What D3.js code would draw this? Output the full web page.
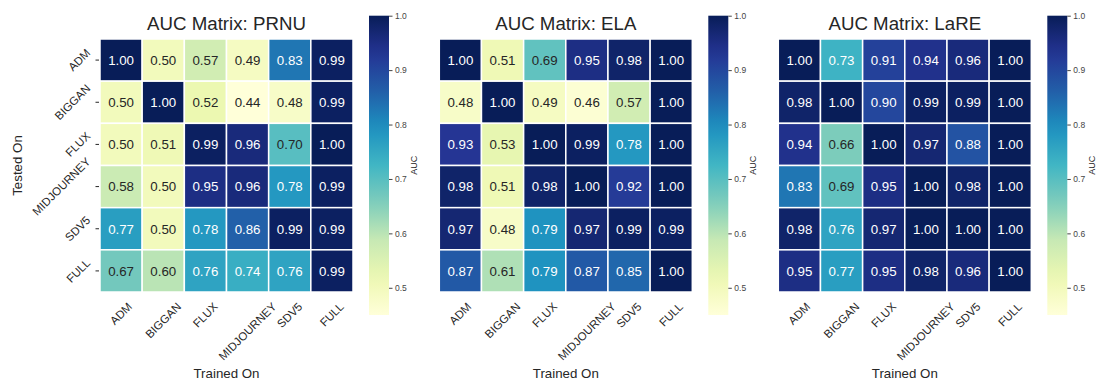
<!DOCTYPE html>
<html>
<head>
<meta charset="utf-8">
<script src="https://cdn.jsdelivr.net/npm/d3@7"></script>
<style>
  html, body { margin: 0; padding: 0; background: #ffffff; }
  svg { display: block; }
  text { font-family: "Liberation Sans", Arial, "DejaVu Sans", sans-serif; }
</style>
</head>
<body>
<svg id="chart" width="1097" height="381"></svg>
<script>
// ---------------- DATA ----------------
const trainedOn = ["ADM", "BIGGAN", "FLUX", "MIDJOURNEY", "SDV5", "FULL"];
const testedOn  = ["ADM", "BIGGAN", "FLUX", "MIDJOURNEY", "SDV5", "FULL"];
const methods   = ["PRNU", "ELA", "LaRE"];

// rows = Tested On, columns = Trained On
const prnuValues = [
  [1.00, 0.50, 0.57, 0.49, 0.83, 0.99],
  [0.50, 1.00, 0.52, 0.44, 0.48, 0.99],
  [0.50, 0.51, 0.99, 0.96, 0.70, 1.00],
  [0.58, 0.50, 0.95, 0.96, 0.78, 0.99],
  [0.77, 0.50, 0.78, 0.86, 0.99, 0.99],
  [0.67, 0.60, 0.76, 0.74, 0.76, 0.99]
];
const elaValues = [
  [1.00, 0.51, 0.69, 0.95, 0.98, 1.00],
  [0.48, 1.00, 0.49, 0.46, 0.57, 1.00],
  [0.93, 0.53, 1.00, 0.99, 0.78, 1.00],
  [0.98, 0.51, 0.98, 1.00, 0.92, 1.00],
  [0.97, 0.48, 0.79, 0.97, 0.99, 0.99],
  [0.87, 0.61, 0.79, 0.87, 0.85, 1.00]
];
const lareValues = [
  [1.00, 0.73, 0.91, 0.94, 0.96, 1.00],
  [0.98, 1.00, 0.90, 0.99, 0.99, 1.00],
  [0.94, 0.66, 1.00, 0.97, 0.88, 1.00],
  [0.83, 0.69, 0.95, 1.00, 0.98, 1.00],
  [0.98, 0.76, 0.97, 1.00, 1.00, 1.00],
  [0.95, 0.77, 0.95, 0.98, 0.96, 1.00]
];
const colorbarTicks = [0.5, 0.6, 0.7, 0.8, 0.9, 1.0];
const colorDomain = [0.45, 1.0];

// ---------------- COLOR MAP (YlGnBu, 9-class, linear like matplotlib) ----------------
const ylgnbu = ["#ffffd9","#edf8b1","#c7e9b4","#7fcdbb","#41b6c4","#1d91c0","#225ea8","#253494","#081d58"];
const cmap = d3.scaleLinear()
  .domain(d3.range(ylgnbu.length).map(i => i / (ylgnbu.length - 1)))
  .range(ylgnbu).interpolate(d3.interpolateRgb).clamp(true);
const norm = d3.scaleLinear().domain(colorDomain).range([0, 1]).clamp(true);
const colorOf = v => cmap(norm(v));

function luminance(c) {
  const rgb = d3.rgb(c);
  const f = x => { x /= 255; return x <= 0.03928 ? x / 12.92 : Math.pow((x + 0.055) / 1.055, 2.4); };
  return 0.2126 * f(rgb.r) + 0.7152 * f(rgb.g) + 0.0722 * f(rgb.b);
}

// ---------------- LAYOUT ----------------
const svg = d3.select("#chart");
const panels = [
  { name: methods[0], values: prnuValues, x0: 100.0, showY: true },
  { name: methods[1], values: elaValues,  x0: 439.3, showY: false },
  { name: methods[2], values: lareValues, x0: 778.3, showY: false }
];
const hmTop = 39.0, hmSize = 253.0;
const cbTop = 15.7, cbBottom = 315.0, cbWidth = 20, cbGap = 16;
const textDark = "#262626";

const defs = svg.append("defs");

function rotatedLabel(g, txt, fs, mode, x0, y0) {
  const t = g.append("text").text(txt)
    .attr("font-size", fs).attr("fill", textDark);
  const w = t.node().getComputedTextLength();
  const a = 0.72 * fs, d = 0.05 * fs, k = Math.SQRT1_2;
  let tx, ty;
  if (mode === "x") { // rotation 45, ha center, va top
    tx = x0 - (k * (w + d) - k * a) / 2;
    ty = y0 + k * (w + a);
  } else {            // rotation 45, ha right, va center
    tx = x0 - k * (w + d);
    ty = y0 - k * (d - w - a) / 2;
  }
  t.attr("transform", `translate(${tx},${ty}) rotate(-45)`);
}

panels.forEach((p, pi) => {
  const g = svg.append("g");
  const x = d3.scaleBand().domain(trainedOn).range([p.x0, p.x0 + hmSize]);
  const y = d3.scaleBand().domain(testedOn).range([hmTop, hmTop + hmSize]);

  // cells
  const cells = [];
  p.values.forEach((row, ri) => row.forEach((v, ci) => cells.push({ r: testedOn[ri], c: trainedOn[ci], v })));
  g.selectAll("rect.cell").data(cells).enter().append("rect")
    .attr("class", "cell")
    .attr("x", d => x(d.c)).attr("y", d => y(d.r))
    .attr("width", x.bandwidth()).attr("height", y.bandwidth())
    .attr("fill", d => colorOf(d.v))
    .attr("stroke", "#ffffff").attr("stroke-width", 1.5);

  g.selectAll("text.annot").data(cells).enter().append("text")
    .attr("class", "annot")
    .attr("x", d => x(d.c) + x.bandwidth() / 2)
    .attr("y", d => y(d.r) + y.bandwidth() / 2)
    .attr("dy", "0.36em")
    .attr("text-anchor", "middle")
    .attr("font-size", 13.3)
    .attr("fill", d => luminance(colorOf(d.v)) <= 0.408 ? "#ffffff" : textDark)
    .text(d => d.v.toFixed(2));

  // title
  g.append("text")
    .attr("x", p.x0 + hmSize / 2).attr("y", 30)
    .attr("text-anchor", "middle").attr("font-size", 18.7).attr("fill", textDark)
    .text("AUC Matrix: " + p.name);

  // x tick labels
  trainedOn.forEach(c => rotatedLabel(g, c, 11.5, "x", x(c) + x.bandwidth() / 2, hmTop + hmSize + 9.5));

  // x axis label
  g.append("text")
    .attr("x", p.x0 + hmSize / 2).attr("y", 378)
    .attr("text-anchor", "middle").attr("font-size", 13.3).attr("fill", textDark)
    .text("Trained On");

  if (p.showY) {
    testedOn.forEach(r => {
      const yc = y(r) + y.bandwidth() / 2;
      g.append("line").attr("x1", p.x0 - 4.5).attr("x2", p.x0 - 1)
        .attr("y1", yc).attr("y2", yc)
        .attr("stroke", textDark).attr("stroke-width", 1);
      rotatedLabel(g, r, 11.5, "y", p.x0 - 8.5, yc);
    });
    g.append("text")
      .attr("transform", `translate(21.5,${hmTop + hmSize / 2}) rotate(-90)`)
      .attr("text-anchor", "middle").attr("font-size", 13.3).attr("fill", textDark)
      .text("Tested On");
  }

  // colorbar
  const cbX = p.x0 + hmSize + cbGap;
  const gradId = "grad" + pi;
  const grad = defs.append("linearGradient").attr("id", gradId)
    .attr("x1", 0).attr("y1", 1).attr("x2", 0).attr("y2", 0);
  d3.range(0, 1.0001, 0.05).forEach(t => {
    grad.append("stop").attr("offset", t).attr("stop-color", cmap(t));
  });
  g.append("rect").attr("x", cbX).attr("y", cbTop)
    .attr("width", cbWidth).attr("height", cbBottom - cbTop)
    .attr("fill", `url(#${gradId})`);
  const cy = d3.scaleLinear().domain(colorDomain).range([cbBottom, cbTop]);
  const axis = d3.axisRight(cy).tickValues(colorbarTicks).tickFormat(d3.format(".1f"))
    .tickSize(3.5).tickPadding(2.5);
  const ag = g.append("g").attr("transform", `translate(${cbX + cbWidth},0)`).call(axis);
  ag.select(".domain").remove();
  ag.selectAll(".tick line").attr("stroke", "#444444").attr("stroke-width", 1);
  ag.selectAll(".tick text").attr("fill", "#444444").attr("font-size", 8.5)
    .attr("font-family", '"Liberation Sans", Arial, sans-serif');
  g.append("text")
    .attr("transform", `translate(${cbX + cbWidth + 28},${(cbTop + cbBottom) / 2}) rotate(-90)`)
    .attr("text-anchor", "middle").attr("font-size", 9).attr("fill", textDark)
    .text("AUC");
});
</script>
</body>
</html>
